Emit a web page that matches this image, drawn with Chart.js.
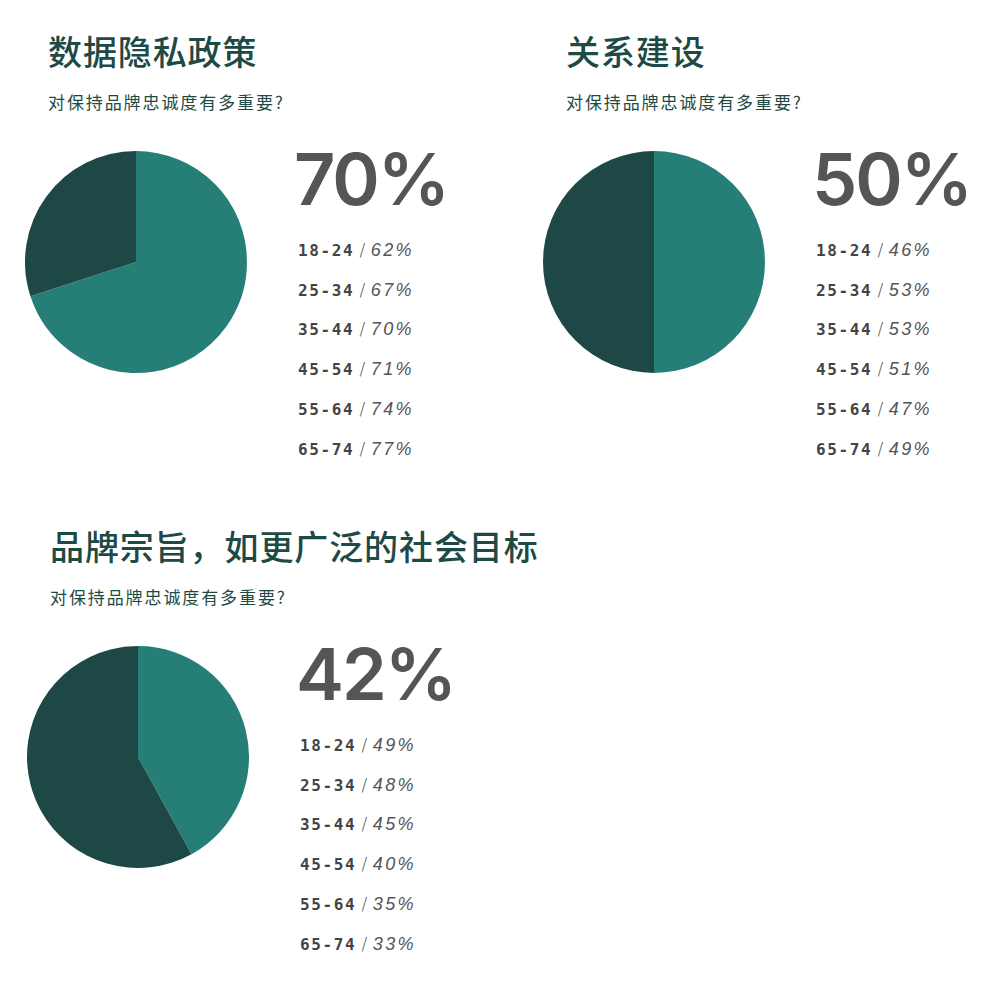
<!DOCTYPE html>
<html>
<head>
<meta charset="utf-8">
<script src="https://cdn.jsdelivr.net/npm/chart.js@4"></script>
<style>
  body { margin: 0; background: #fff; width: 1000px; height: 1000px; position: relative; overflow: hidden; }
  .panel { position: absolute; width: 500px; height: 495px; }
  .title { position: absolute; left: 48px; top: 34px; font: 500 34px "Noto Sans CJK SC"; letter-spacing: 0.9px; line-height: 1; color: #1d4a45; white-space: nowrap; }
  .sub { position: absolute; left: 48px; top: 93px; font: 400 17px "Noto Sans CJK SC"; letter-spacing: 1.9px; line-height: 1; color: #1d4a45; white-space: nowrap; }
  .pie { position: absolute; left: 25px; top: 151px; }
  .big { position: absolute; left: 294px; top: 143px; font: 600 72px Inter; letter-spacing: -2px; line-height: 1; color: #555; }
  .ages { position: absolute; left: 298px; top: 231px; line-height: 39.7px; white-space: nowrap; }
  .age { font: bold 16px "DejaVu Sans Mono"; letter-spacing: 1.6px; color: #444; }
  .slash { font: 300 17px "DejaVu Sans"; color: #555; }
  .pct { font: italic 400 18px "Liberation Sans"; letter-spacing: 2.4px; color: #555; }
</style>
</head>
<body>
<script>
// Panel titles and overall shares
const titles = ['数据隐私政策', '关系建设', '品牌宗旨，如更广泛的社会目标'];
const subtitle = '对保持品牌忠诚度有多重要?';
const overall = [70, 50, 42];

// Age groups and their shares per panel
const ageGroups = ['18-24', '25-34', '35-44', '45-54', '55-64', '65-74'];
const privacyByAge = [62, 67, 70, 71, 74, 77];
const relationByAge = [46, 53, 53, 51, 47, 49];
const purposeByAge = [49, 48, 45, 40, 35, 33];
const byAge = [privacyByAge, relationByAge, purposeByAge];

const teal = '#267f77';
const dark = '#1e4845';
const offsets = [[0, 0], [518, 0], [2, 495]];

titles.forEach(function (title, i) {
    const panel = document.createElement('div');
    panel.className = 'panel';
    panel.style.left = offsets[i][0] + 'px';
    panel.style.top = offsets[i][1] + 'px';

    let rows = '';
    ageGroups.forEach(function (g, j) {
        rows += '<div><span class="age">' + g + '</span><span class="slash"> / </span>' +
            '<span class="pct">' + byAge[i][j] + '%</span></div>';
    });

    panel.innerHTML =
        '<div class="title">' + title + '</div>' +
        '<div class="sub">' + subtitle + '</div>' +
        '<canvas class="pie" id="pie' + i + '" width="222" height="222"></canvas>' +
        '<div class="big">' + overall[i] + '%</div>' +
        '<div class="ages">' + rows + '</div>';
    document.body.appendChild(panel);

    new Chart(document.getElementById('pie' + i), {
        type: 'pie',
        data: {
            labels: ['是', '否'],
            datasets: [{
                data: [overall[i], 100 - overall[i]],
                backgroundColor: [teal, dark],
                borderWidth: 0
            }]
        },
        options: {
            responsive: false,
            animation: false,
            layout: { padding: 0 },
            plugins: { legend: { display: false }, tooltip: { enabled: false } }
        }
    });
});
</script>
</body>
</html>
